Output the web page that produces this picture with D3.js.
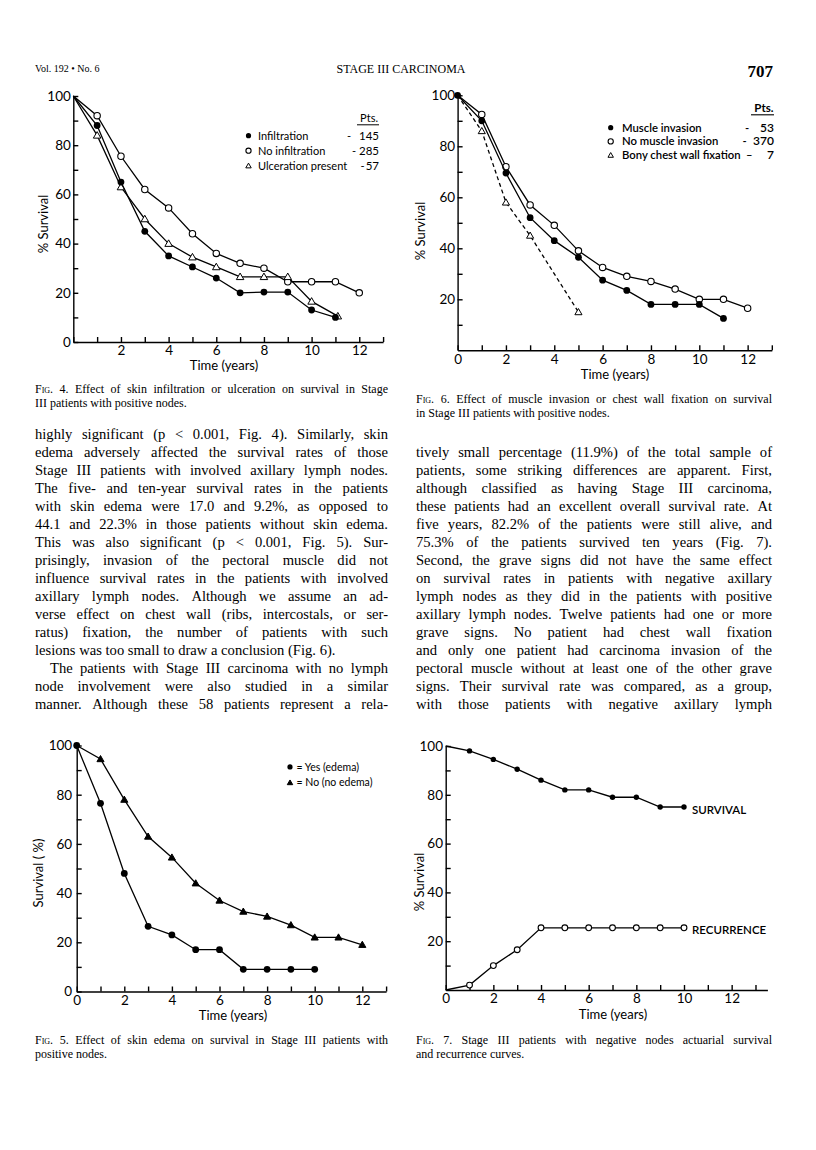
<!DOCTYPE html>
<html><head><meta charset="utf-8">
<script src="https://cdn.jsdelivr.net/npm/d3@7"></script>
<style>body{margin:0;background:#fff}svg{display:block}</style>
</head><body>
<svg id="page" width="816" height="1150"></svg>
<script>
// ---------------- DATA ----------------
// Fig. 4
const fig4InfiltrationYears = [0,1,2,3,4,5,6,7,8,9,10,11];
const fig4Infiltration      = [100,88,65,45,35,30.5,26,20,20.3,20.3,13,10];
const fig4NoInfiltrationYears = [0,1,2,3,4,5,6,7,8,9,10,11,12];
const fig4NoInfiltration      = [100,92,75.5,62,54.5,44,36,32,30,24.5,24.5,24.5,20];
const fig4UlcerationYears = [0,1,2,3,4,5,6,7,8,9,10,11.1];
const fig4Ulceration      = [100,84,63,50,40,34.5,30.5,26.5,26.5,26.5,16.5,10.5];
const fig4Legend = ["Infiltration","No infiltration","Ulceration present"];
const fig4Pts = ["145","285","57"];
// Fig. 6
const fig6MuscleYears = [0,1,2,3,4,5,6,7,8,9,10,11];
const fig6Muscle      = [100,90,69.5,52,43,36.5,27.5,23.5,18,18,18,12.5];
const fig6NoMuscleYears = [0,1,2,3,4,5,6,7,8,9,10,11,12];
const fig6NoMuscle      = [100,92.5,72,57,49,39,32.5,29,27,24,20,20,16.5];
const fig6BonyYears = [0,1,2,3,5];
const fig6Bony      = [100,86,58,45,15];
const fig6Legend = ["Muscle invasion","No muscle invasion","Bony chest wall fixation"];
const fig6Pts = ["53","370","7"];
// Fig. 5
const fig5YesYears = [0,1,2,3,4,5,6,7,8,9,10];
const fig5Yes      = [100,76.5,48,26.5,23,17,17,9,9,9,9];
const fig5NoYears  = [0,1,2,3,4,5,6,7,8,9,10,11,12];
const fig5No       = [100,94.5,78,63,54.5,44,37,32.5,30.5,27,22,22,19];
const fig5Legend = ["= Yes (edema)","= No (no edema)"];
// Fig. 7
const fig7Years = [0,1,2,3,4,5,6,7,8,9,10];
const fig7Survival   = [100,98,94.5,90.5,86,82,82,79,79,75,75];
const fig7Recurrence = [0,2,10,16.5,25.5,25.5,25.5,25.5,25.5,25.5,25.5];
const fig7Labels = ["SURVIVAL","RECURRENCE"];
// tick labels
const yTickValues = [10,20,30,40,50,60,70,80,90,100];
const yLabelValues = [20,40,60,80,100];
const xLabelValues = [2,4,6,8,10,12];

// text
const header = {left:"Vol. 192 \u2022 No. 6", center:"STAGE III CARCINOMA", page:"707"};
const cap4 = ["Fig. 4. Effect of skin infiltration or ulceration on survival in Stage","III patients with positive nodes."];
const cap6 = ["Fig. 6. Effect of muscle invasion or chest wall fixation on survival","in Stage III patients with positive nodes."];
const cap5 = ["Fig. 5. Effect of skin edema on survival in Stage III patients with","positive nodes."];
const cap7 = ["Fig. 7. Stage III patients with negative nodes actuarial survival","and recurrence curves."];
const leftText = [
"highly significant (p < 0.001, Fig. 4). Similarly, skin",
"edema adversely affected the survival rates of those",
"Stage III patients with involved axillary lymph nodes.",
"The five- and ten-year survival rates in the patients",
"with skin edema were 17.0 and 9.2%, as opposed to",
"44.1 and 22.3% in those patients without skin edema.",
"This was also significant (p < 0.001, Fig. 5). Sur-",
"prisingly, invasion of the pectoral muscle did not",
"influence survival rates in the patients with involved",
"axillary lymph nodes. Although we assume an ad-",
"verse effect on chest wall (ribs, intercostals, or ser-",
"ratus) fixation, the number of patients with such",
"lesions was too small to draw a conclusion (Fig. 6).",
"The patients with Stage III carcinoma with no lymph",
"node involvement were also studied in a similar",
"manner. Although these 58 patients represent a rela-"];
const rightText = [
"tively small percentage (11.9%) of the total sample of",
"patients, some striking differences are apparent. First,",
"although classified as having Stage III carcinoma,",
"these patients had an excellent overall survival rate. At",
"five years, 82.2% of the patients were still alive, and",
"75.3% of the patients survived ten years (Fig. 7).",
"Second, the grave signs did not have the same effect",
"on survival rates in patients with negative axillary",
"lymph nodes as they did in the patients with positive",
"axillary lymph nodes. Twelve patients had one or more",
"grave signs. No patient had chest wall fixation",
"and only one patient had carcinoma invasion of the",
"pectoral muscle without at least one of the other grave",
"signs. Their survival rate was compared, as a group,",
"with those patients with negative axillary lymph"];

// ---------------- DRAW ----------------
const SERIF = "'Liberation Serif','Times New Roman',serif";
const SANS = "Lato,'Open Sans',sans-serif";
const INK = "#000";
const svg = d3.select("#page");
svg.append("rect").attr("width",816).attr("height",1150).attr("fill","#fff");

function textLine(g, str, x, y, width, o) {
  o = o || {};
  const size = o.size || 14, justify = o.justify !== false;
  const t = g.append("text").attr("y", y).attr("font-family", o.family || SERIF)
    .attr("font-size", size).attr("fill", INK);
  const words = str.split(" ");
  const spans = words.map((w,i) => {
    const s = t.append("tspan").text(w);
    if (o.smallCapsFirst && i === 0) s.style("font-variant","small-caps");
    return s;
  });
  const widths = spans.map(s => s.node().getComputedTextLength());
  const total = d3.sum(widths);
  let gap = (justify && words.length > 1) ? (width - total) / (words.length - 1) : size * 0.25;
  gap = Math.max(gap, size * 0.12);
  let cx = x;
  spans.forEach((s,i) => { s.attr("x", cx); cx += widths[i] + gap; });
}

// header
svg.append("text").attr("x",35).attr("y",72).attr("font-family",SERIF).attr("font-size",10).attr("fill",INK).text(header.left);
svg.append("text").attr("x",401).attr("y",73).attr("text-anchor","middle").attr("font-family",SERIF).attr("font-size",12).attr("fill",INK).text(header.center);
svg.append("text").attr("x",773).attr("y",77).attr("text-anchor","end").attr("font-family",SERIF).attr("font-weight","bold").attr("font-size",17).attr("fill",INK).text(header.page);

// body text
const body = svg.append("g");
leftText.forEach((l,i) => {
  const indent = i === 13 ? 15 : 0;
  textLine(body, l, 35 + indent, 439 + 18*i, 353 - indent, {size:14.6, justify: i !== 12});
});
rightText.forEach((l,i) => {
  textLine(body, l, 416, 457 + 18*i, 356, {size:14.6});
});

// captions
function caption(lines, x, y, w) {
  lines.forEach((l,i) => textLine(svg.append("g"), l, x, y + 13.5*i, w,
    {size:12, justify: i < lines.length - 1, smallCapsFirst: i === 0}));
}
caption(cap4, 35, 393, 353);
caption(cap6, 416, 403, 356);
caption(cap5, 35, 1044, 353);
caption(cap7, 416, 1044, 356);

// charts
function marker(g, type, cx, cy, size) {
  if (type === "fc") g.append("circle").attr("cx",cx).attr("cy",cy).attr("r",size).attr("fill",INK);
  else if (type === "oc") g.append("circle").attr("cx",cx).attr("cy",cy).attr("r",size).attr("fill","#fff").attr("stroke",INK).attr("stroke-width",1.1);
  else if (type === "ot" || type === "ft") g.append("path")
    .attr("d", d3.symbol(d3.symbolTriangle, size*size*1.9)())
    .attr("transform",`translate(${cx},${cy+0.6})`)
    .attr("fill", type === "ft" ? INK : "#fff").attr("stroke",INK).attr("stroke-width",1);
}

function drawChart(cfg) {
  const g = svg.append("g");
  const x = d3.scaleLinear().domain([0,cfg.xMax]).range([cfg.x0, cfg.x0 + cfg.xMax*cfg.pxYear]);
  const y = d3.scaleLinear().domain([0,100]).range([cfg.y0, cfg.y100]);
  const xt = d3.range(0, Math.floor(cfg.xMax)+1);
  const xa = d3.axisBottom(x).tickValues(xt).tickSize(-5).tickSizeOuter(0).tickPadding(cfg.xPad)
    .tickFormat(d => (xLabelValues.includes(d) || (d === 0 && cfg.xZero)) ? d : "");
  const gx = g.append("g").attr("transform",`translate(0,${cfg.y0})`).call(xa);
  const yt = cfg.yZero ? [0].concat(yTickValues) : yTickValues;
  const ya = d3.axisLeft(y).tickValues(yt).tickSize(-5).tickSizeOuter(0).tickPadding(cfg.yPad)
    .tickFormat(d => (yLabelValues.includes(d) || (d === 0 && cfg.yZero)) ? d : "");
  const gy = g.append("g").attr("transform",`translate(${cfg.x0},0)`).call(ya);
  [gx, gy].forEach(a => {
    a.attr("font-family", SANS).attr("font-size", 13.5).attr("color", INK);
    a.selectAll("path,line").attr("stroke-width", 1.4);
  });
  // axis titles
  g.append("text").attr("x", cfg.xTitle[0]).attr("y", cfg.xTitle[1]).attr("text-anchor","middle")
    .attr("font-family",SANS).attr("font-size",13).attr("fill",INK).text("Time (years)");
  g.append("text").attr("transform",`translate(${cfg.yTitle[0]},${cfg.yTitle[1]}) rotate(-90)`)
    .attr("text-anchor","middle").attr("dy","0.35em").attr("font-family",SANS).attr("font-size",13)
    .attr("fill",INK).text(cfg.yTitleText);
  // series
  const line = d3.line().x(d => x(d[0])).y(d => y(d[1]));
  cfg.series.forEach(s => {
    const pts = s.xs.map((v,i) => [v, s.ys[i]]);
    g.append("path").attr("d", line(pts)).attr("fill","none").attr("stroke",INK)
      .attr("stroke-width",1.3).attr("stroke-dasharray", s.dash || null);
    pts.forEach((p,i) => {
      if (i === 0 && !s.zeroMarker) return;
      marker(g, s.marker, x(p[0]), y(p[1]), s.r);
    });
  });
  return g;
}

// Fig. 4
drawChart({x0:73.3, pxYear:23.83, xMax:13, y0:342, y100:96, xPad:3.5, yPad:2.5, xZero:false, yZero:true,
  xTitle:[224,369.5], yTitle:[43,224], yTitleText:"% Survival",
  series:[
    {xs:fig4NoInfiltrationYears, ys:fig4NoInfiltration, marker:"oc", r:3.2},
    {xs:fig4UlcerationYears, ys:fig4Ulceration, marker:"ot", r:3.6},
    {xs:fig4InfiltrationYears, ys:fig4Infiltration, marker:"fc", r:3.4}
  ]});
// Fig. 6
drawChart({x0:457.6, pxYear:24.17, xMax:13, y0:350.3, y100:95.3, xPad:4, yPad:2.5, xZero:true, yZero:false,
  xTitle:[615,378.5], yTitle:[420,231], yTitleText:"% Survival",
  series:[
    {xs:fig6BonyYears, ys:fig6Bony, marker:"ot", r:3.4, dash:"4,3"},
    {xs:fig6NoMuscleYears, ys:fig6NoMuscle, marker:"oc", r:3.2},
    {xs:fig6MuscleYears, ys:fig6Muscle, marker:"fc", r:3.4, zeroMarker:true}
  ]});
// Fig. 5
drawChart({x0:76.7, pxYear:23.8, xMax:13, y0:991.5, y100:745.5, xPad:3.5, yPad:4.5, xZero:true, yZero:true,
  xTitle:[233,1020], yTitle:[38,873], yTitleText:"Survival ( %)",
  series:[
    {xs:fig5NoYears, ys:fig5No, marker:"ft", r:3.4},
    {xs:fig5YesYears, ys:fig5Yes, marker:"fc", r:3.4, zeroMarker:true}
  ]});
// Fig. 7
drawChart({x0:445.7, pxYear:23.83, xMax:13.5, y0:990, y100:746, xPad:3.5, yPad:2.7, xZero:true, yZero:false,
  xTitle:[613,1019], yTitle:[419,882], yTitleText:"% Survival",
  series:[
    {xs:fig7Years, ys:fig7Survival, marker:"fc", r:2.7},
    {xs:fig7Years, ys:fig7Recurrence, marker:"oc", r:2.9}
  ]});

// Legends
const lg = svg.append("g").attr("font-family",SANS).attr("fill",INK);
// Fig 4
lg.append("text").attr("x",378).attr("y",122).attr("text-anchor","end").attr("font-size",11).text("Pts.");
lg.append("line").attr("x1",357).attr("x2",379).attr("y1",124.8).attr("y2",124.8).attr("stroke",INK).attr("stroke-width",1);
const l4m = ["fc","oc","ot"], l4dash = [347,352,360.5];
fig4Legend.forEach((t,i) => {
  const by = 139.5 + 15*i;
  marker(lg, l4m[i], 248.5, by-3.8, 2.6);
  lg.append("text").attr("x",258).attr("y",by).attr("font-size",11).text(t);
  lg.append("text").attr("x",l4dash[i]).attr("y",by).attr("font-size",11).text("-");
  lg.append("text").attr("x",379).attr("y",by).attr("text-anchor","end").attr("font-size",11.5).text(fig4Pts[i]);
});
// Fig 6
lg.append("text").attr("x",773.5).attr("y",112).attr("text-anchor","end").attr("font-size",11.5).attr("font-weight","bold").text("Pts.");
lg.append("line").attr("x1",751).attr("x2",774).attr("y1",114.8).attr("y2",114.8).attr("stroke",INK).attr("stroke-width",1.1);
const l6m = ["fc","oc","ot"], l6dash = [745,742.5,746];
fig6Legend.forEach((t,i) => {
  const by = 131.5 + 13.7*i;
  marker(lg, l6m[i], 610.7, by-3.8, 2.6);
  lg.append("text").attr("x",622).attr("y",by).attr("font-size",11.3).attr("font-weight",600).text(t);
  lg.append("text").attr("x",l6dash[i]).attr("y",by).attr("font-size",11.3).attr("font-weight",600).text(i===2?"\u2013":"-");
  lg.append("text").attr("x",774).attr("y",by).attr("text-anchor","end").attr("font-size",12).attr("font-weight",600).text(fig6Pts[i]);
});
// Fig 5
const l5m = ["fc","ft"];
fig5Legend.forEach((t,i) => {
  const by = 770.5 + 15.6*i;
  marker(lg, l5m[i], 290, by-3.6, 2.6);
  lg.append("text").attr("x",296.5).attr("y",by).attr("font-size",10.5).text(t);
});
// Fig 7 labels
lg.append("text").attr("x",692).attr("y",814).attr("font-size",11.5).attr("font-weight",600).text(fig7Labels[0]);
lg.append("text").attr("x",692).attr("y",933.5).attr("font-size",11.5).attr("font-weight",600).text(fig7Labels[1]);
</script>
</body></html>
